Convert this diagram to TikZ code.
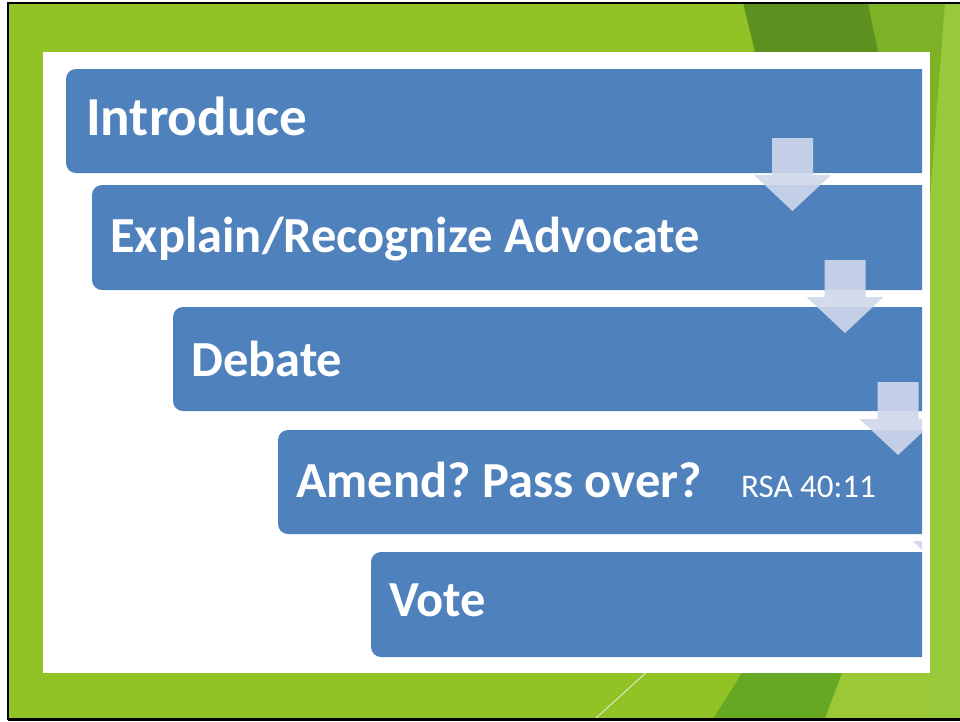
\documentclass[tikz,border=0pt]{standalone}
\usepackage{fontspec}
\setmainfont{Carlito}
\frenchspacing
\definecolor{bgreen}{RGB}{146,195,38}
\definecolor{dgreen}{RGB}{92,145,32}
\definecolor{mgreen}{RGB}{125,178,38}
\definecolor{lgreen}{RGB}{152,200,60}
\definecolor{bdgreen}{RGB}{102,168,35}
\definecolor{bxblue}{RGB}{79,129,189}
\definecolor{arrc}{RGB}{208,216,236}
\tikzset{
  stepbox/.style={fill=bxblue, rounded corners=10pt},
  lbl/.style={text=white, font=\fontsize{50.5}{60}\selectfont\bfseries, inner sep=0pt, anchor=base west},
  biglbl/.style={lbl, font=\fontsize{55}{64}\selectfont\bfseries},
  small/.style={text=white, font=\fontsize{33}{38}\selectfont, inner sep=0pt, anchor=base west},
  arrowfill/.style={fill=arrc, fill opacity=0.9}
}
\newcommand\dnarrow[1]{%
  \begin{scope}[shift={(#1)}]
    \fill[arrowfill] (-20.5,0) -- (20.5,0) -- (20.5,37) -- (38.5,37) -- (0,73)
      -- (-38.5,37) -- (-20.5,37) -- cycle;
  \end{scope}}
\begin{document}
\begin{tikzpicture}[x=1pt,y=-1pt]
\useasboundingbox (0,0) rectangle (960,721);
\fill[white] (0,0) rectangle (960,721);
% background
\fill[bgreen] (8,3) rectangle (960,719);
\fill[dgreen] (743,3) -- (868,3) -- (880,60) -- (757,60) -- cycle;
\fill[mgreen] (868,3) -- (945,3) -- (930,200) -- (880,200) -- (880,60) -- cycle;
\fill[lgreen] (945,3) -- (960,3) -- (960,719) -- (930,719) -- (930,200) -- cycle;
\fill[bdgreen] (713,719) -- (825,719) -- (845,665) -- (747,665) -- cycle;
\fill[bgreen!92!white] (825,719) -- (930,719) -- (930,665) -- (845,665) -- cycle;
\draw[white!85!gray, line width=0.8pt] (595,719) -- (650,669);
% black frame
\draw[black, line width=2.5pt] (8,720) -- (8,3) -- (960,3);
\draw[black, line width=3pt] (8,719.5) -- (960,719.5);
% white panel
\fill[white] (43,52) rectangle (930,673);
% boxes and arrows
\begin{scope}
\clip (43,52) rectangle (922,673);
\fill[stepbox] (66,69) rectangle (1000,173);
\fill[stepbox] (92,185) rectangle (1000,290);
\fill[stepbox] (173,307) rectangle (1000,411);
\fill[stepbox] (278,430) rectangle (1000,534);
\fill[stepbox] (371,552) rectangle (1000,657);
\coordinate (a1) at (792.5,138);
\coordinate (a2) at (845,260);
\coordinate (a3) at (898,382);
\coordinate (a4) at (951,504);
\dnarrow{a1}
\dnarrow{a2}
\dnarrow{a3}
\dnarrow{a4}
\end{scope}
% labels
\node[biglbl] (t1) at (86,135) {Introduce};
\node[lbl] (t2) at (110,252) {Explain/Recognize Advocate};
\node[lbl] (t3) at (191,376) {Debate};
\node[lbl] (t4) at (296,497) {Amend? Pass over?};
\node[small] (t4b) at (741,497) {RSA 40:11};
\node[lbl] (t5) at (389,616) {Vote};
\end{tikzpicture}
\end{document}
